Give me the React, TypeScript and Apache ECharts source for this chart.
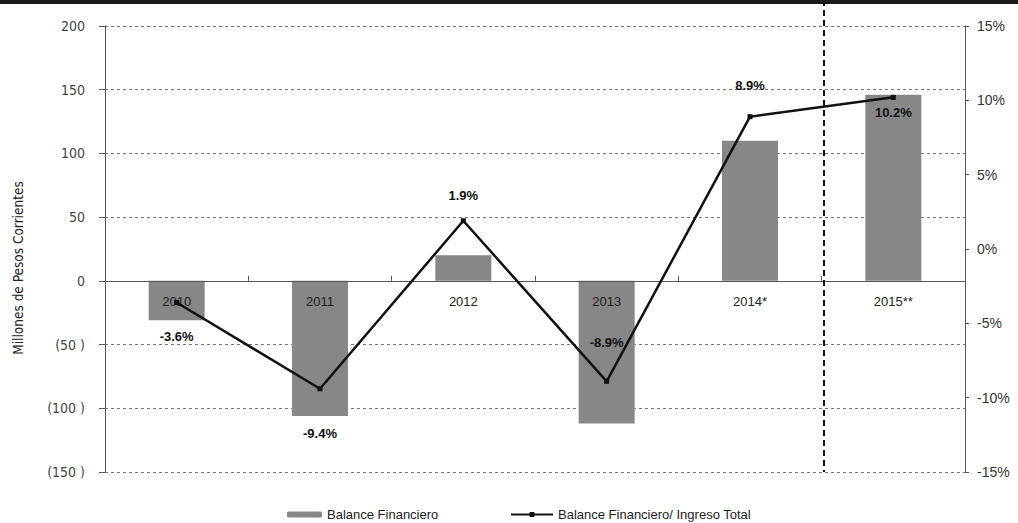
import React, { useEffect, useRef } from "react";
import * as echarts from "echarts";

const categories = ["2010", "2011", "2012", "2013", "2014*", "2015**"];
const balanceValues = [-31, -106, 20, -112, 110, 146];
const ratioValues = [-3.6, -9.4, 1.9, -8.9, 8.9, 10.2];
const ratioLabelPos = ["bottom", "bottom", "top", "top", "top", "bottom"];
const ratioLabelDist = [25, 36, 16, 30, 22, 6];
const barName = "Balance Financiero";
const lineName = "Balance Financiero/ Ingreso Total";
const yTitle = "Millones de Pesos Corrientes";

const NARROW = "'Liberation Sans Narrow', 'DejaVu Sans Condensed', 'Liberation Sans', sans-serif";
const SANS = "'Liberation Sans', Arial, sans-serif";

export default function App() {
  const ref = useRef<HTMLDivElement>(null);
  useEffect(() => {
    if (!ref.current) return;
    const chart = echarts.init(ref.current, null, { renderer: "svg" });
    const option: any = {
      animation: false,
      backgroundColor: "#ffffff",
      grid: { left: 105, right: 53, top: 26, bottom: 51, containLabel: false },
      legend: [
        {
          data: [barName],
          left: 282,
          top: 503,
          itemWidth: 35,
          itemHeight: 6,
          textStyle: { fontFamily: SANS, fontSize: 13, color: "#222" },
        },
        {
          data: [lineName],
          left: 505,
          top: 503,
          itemWidth: 42,
          itemHeight: 6,
          textStyle: { fontFamily: SANS, fontSize: 13, color: "#222" },
        },
      ],
      xAxis: {
        type: "category",
        data: categories,
        position: "bottom",
        offset: 0,
        axisLine: { onZero: false, lineStyle: { color: "#555", width: 1 } },
        axisTick: { show: true, inside: true, length: 5, lineStyle: { color: "#555" } },
        axisLabel: { margin: 14, fontFamily: SANS, fontSize: 13, color: "#222" },
        splitLine: { show: false },
        z: 5,
      },
      yAxis: [
        {
          type: "value",
          min: -150,
          max: 200,
          interval: 50,
          position: "left",
          axisLine: { show: true, lineStyle: { color: "#555" } },
          axisTick: { show: true, length: 6, lineStyle: { color: "#555" } },
          axisLabel: {
            margin: 20,
            fontFamily: NARROW,
            fontSize: 14,
            color: "#444",
            formatter: (v: number) => (v < 0 ? `(${-v} )` : `${v}`),
          },
          splitLine: { show: true, lineStyle: { color: "#777", type: [3, 3], width: 1 } },
        },
        {
          type: "value",
          min: -15,
          max: 15,
          interval: 5,
          position: "right",
          axisLine: { show: true, lineStyle: { color: "#555" } },
          axisTick: { show: true, length: 4, lineStyle: { color: "#555" } },
          axisLabel: {
            margin: 12,
            fontFamily: SANS,
            fontSize: 14,
            color: "#333",
            formatter: (v: number) => `${v}%`,
          },
          splitLine: { show: false },
        },
      ],
      series: [
        {
          name: barName,
          type: "bar",
          yAxisIndex: 0,
          data: balanceValues,
          barWidth: 56,
          itemStyle: { color: "#878787" },
          z: 2,
        },
        {
          name: lineName,
          type: "line",
          yAxisIndex: 1,
          data: ratioValues.map((v, i) => ({
            value: v,
            label: { position: ratioLabelPos[i], distance: ratioLabelDist[i] },
          })),
          symbol: "rect",
          symbolSize: 5,
          lineStyle: { color: "#111", width: 2.5 },
          itemStyle: { color: "#111" },
          label: {
            show: true,
            fontFamily: SANS,
            fontSize: 13,
            fontWeight: "bold",
            color: "#111",
            formatter: (p: any) => `${p.value}%`,
          },
          z: 6,
        },
      ],
      graphic: [
        { type: "rect", shape: { x: 0, y: 0, width: 1018, height: 4 }, style: { fill: "#1a1a1a" } },
        {
          type: "text",
          x: 18,
          y: 268,
          rotation: Math.PI / 2,
          style: {
            text: yTitle,
            fontFamily: NARROW,
            fontSize: 13.5,
            fill: "#222",
            align: "center",
            verticalAlign: "middle",
          },
        },
      ],
    };
    chart.setOption(option);
    const x1 = chart.convertToPixel({ xAxisIndex: 0 }, categories[4]) as number;
    const x2 = chart.convertToPixel({ xAxisIndex: 0 }, categories[5]) as number;
    const yb = chart.convertToPixel({ yAxisIndex: 0 }, -150) as number;
    const y0 = chart.convertToPixel({ yAxisIndex: 0 }, 0) as number;
    const xm = Math.round((x1 + x2) / 2) + 2;
    chart.setOption({
      xAxis: { offset: -(yb - y0) },
      graphic: [
        option.graphic[0],
        option.graphic[1],
        {
          type: "line",
          shape: { x1: xm, y1: 0, x2: xm, y2: yb },
          style: { stroke: "#111", lineWidth: 2, lineDash: [6, 4] },
          z: 10,
        },
      ],
    });
    return () => chart.dispose();
  }, []);
  return (
    <div
      ref={ref}
      style={{ position: "fixed", left: 0, top: 0, width: 1018, height: 523, background: "#fff" }}
    />
  );
}
